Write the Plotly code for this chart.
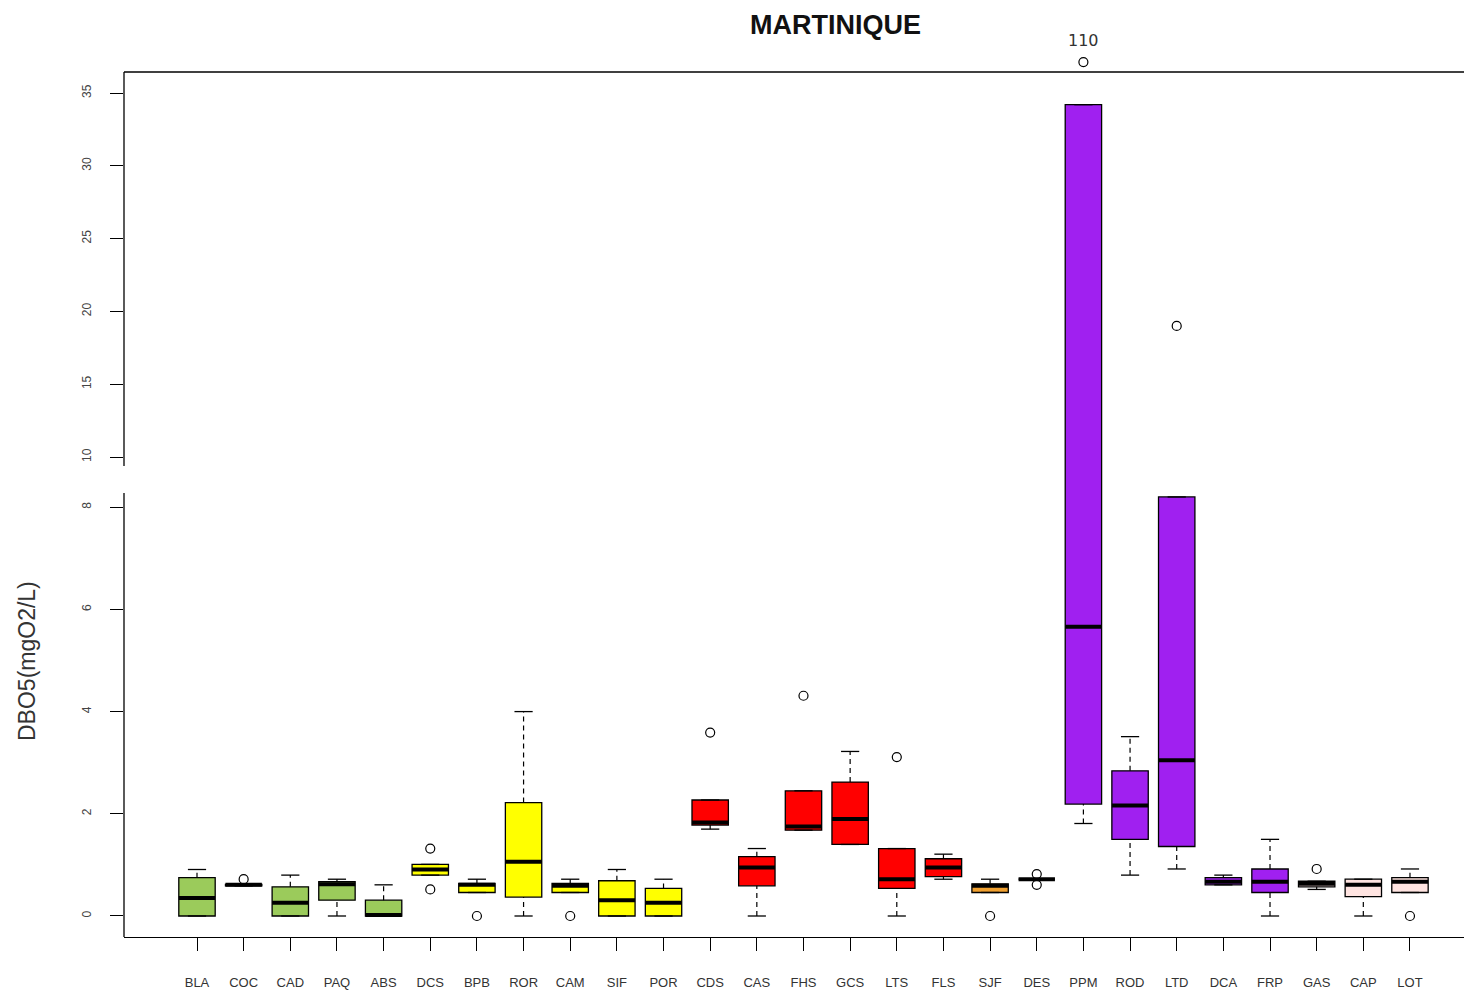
import plotly.graph_objects as go

# ---------------- data ----------------
categories = ["BLA", "COC", "CAD", "PAQ", "ABS", "DCS", "BPB", "ROR", "CAM", "SIF", "POR",
              "CDS", "CAS", "FHS", "GCS", "LTS", "FLS", "SJF", "DES", "PPM", "ROD", "LTD",
              "DCA", "FRP", "GAS", "CAP", "LOT"]
q1 = [0.00, 0.59, 0.00, 0.31, 0.00, 0.80, 0.46, 0.37, 0.46, 0.00, 0.00,
      1.78, 0.59, 1.68, 1.40, 0.54, 0.77, 0.46, 0.72, 2.19, 1.50, 1.36,
      0.61, 0.46, 0.57, 0.38, 0.46]
median = [0.35, 0.61, 0.26, 0.62, 0.02, 0.91, 0.61, 1.06, 0.59, 0.31, 0.26,
          1.83, 0.95, 1.75, 1.90, 0.72, 0.95, 0.59, 0.72, 5.66, 2.16, 3.05,
          0.67, 0.67, 0.63, 0.61, 0.67]
q3 = [0.75, 0.62, 0.57, 0.67, 0.31, 1.01, 0.64, 2.22, 0.64, 0.69, 0.54,
      2.27, 1.16, 2.45, 2.62, 1.32, 1.12, 0.63, 0.72, 34.2, 2.84, 8.20,
      0.75, 0.92, 0.68, 0.72, 0.75]
whisker_low = [0.00, 0.59, 0.00, 0.00, 0.00, 0.80, 0.46, 0.00, 0.46, 0.00, 0.00,
               1.70, 0.00, 1.68, 1.40, 0.00, 0.72, 0.46, 0.72, 1.81, 0.80, 0.92,
               0.61, 0.00, 0.52, 0.00, 0.46]
whisker_high = [0.91, 0.62, 0.80, 0.72, 0.61, 1.01, 0.72, 4.00, 0.72, 0.91, 0.72,
                2.27, 1.32, 2.45, 3.22, 1.32, 1.21, 0.72, 0.72, 34.2, 3.51, 8.20,
                0.80, 1.50, 0.68, 0.72, 0.92]
outliers = [[], [0.72], [], [], [], [1.32, 0.52], [0.0], [], [0.0], [], [],
            [3.59], [], [4.31], [], [3.11], [], [0.0], [0.82, 0.61], [110.0], [], [19.0],
            [], [], [0.92], [], [0.0]]
fill_colors = ["#9BCB5B"] * 5 + ["#FFFF00"] * 6 + ["#FF0000"] * 6 + ["#F0A030", "#FFFFFF"] + \
              ["#A020F0"] * 5 + ["#FFE4E1"] * 3
lower_ticks = [0, 2, 4, 6, 8]
upper_ticks = [10, 15, 20, 25, 30, 35]

# ---------------- style constants ----------------
BOX_W = 0.78
CAP_HALF = BOX_W / 4
MED_HALF = BOX_W / 2
LOWER_RANGE = [-0.411, 8.532]
UPPER_RANGE = [8.42, 39.33]
FRAME_TOP = 36.44        # top of the framed plotting region (upper segment units)
SPLIT = 0.50386
OUTLIER_CLAMP = 37.13    # values above the frame are drawn just above it
LINE_W = 1.3

xs = list(range(len(categories)))
fig = go.Figure()

for ya in ["y", "y2"]:
    for i, c in enumerate(categories):
        fig.add_trace(go.Box(
            x=[xs[i]], q1=[q1[i]], median=[median[i]], q3=[q3[i]],
            lowerfence=[q1[i]], upperfence=[q3[i]],
            width=BOX_W, fillcolor=fill_colors[i], boxpoints=False,
            line=dict(color="black", width=LINE_W),
            xaxis="x", yaxis=ya, showlegend=False, hoverinfo="skip"))

    wx, wy, cx, cy, mx, my = [], [], [], [], [], []
    for i in xs:
        if whisker_high[i] > q3[i]:
            wx += [i, i, None]; wy += [q3[i], whisker_high[i], None]
        if whisker_low[i] < q1[i]:
            wx += [i, i, None]; wy += [whisker_low[i], q1[i], None]
        cx += [i - CAP_HALF, i + CAP_HALF, None, i - CAP_HALF, i + CAP_HALF, None]
        cy += [whisker_high[i], whisker_high[i], None, whisker_low[i], whisker_low[i], None]
        mx += [i - MED_HALF, i + MED_HALF, None]
        my += [median[i], median[i], None]
    fig.add_trace(go.Scatter(x=wx, y=wy, mode="lines", xaxis="x", yaxis=ya,
                             line=dict(color="black", width=1.2, dash="5px,4px"),
                             showlegend=False, hoverinfo="skip"))
    fig.add_trace(go.Scatter(x=cx, y=cy, mode="lines", xaxis="x", yaxis=ya,
                             line=dict(color="black", width=LINE_W),
                             showlegend=False, hoverinfo="skip"))
    fig.add_trace(go.Scatter(x=mx, y=my, mode="lines", xaxis="x", yaxis=ya,
                             line=dict(color="black", width=4),
                             showlegend=False, hoverinfo="skip"))

# outliers
lo_x, lo_y, up_x, up_y = [], [], [], []
labels = []
for i in xs:
    for v in outliers[i]:
        if v <= LOWER_RANGE[1]:
            lo_x.append(i); lo_y.append(v)
        else:
            yv = min(v, OUTLIER_CLAMP)
            up_x.append(i); up_y.append(yv)
            if v > FRAME_TOP:
                labels.append(dict(text=f"{v:g}", x=i, y=yv, xref="x", yref="y2",
                                   yshift=22, showarrow=False, xanchor="center",
                                   yanchor="middle",
                                   font=dict(family="DejaVu Sans", size=16, color="#333333")))
marker_style = dict(symbol="circle-open", size=9, color="black", line=dict(width=1.2))
fig.add_trace(go.Scatter(x=lo_x, y=lo_y, mode="markers", xaxis="x", yaxis="y",
                         marker=marker_style, showlegend=False, hoverinfo="skip"))
fig.add_trace(go.Scatter(x=up_x, y=up_y, mode="markers", xaxis="x", yaxis="y2",
                         marker=marker_style, showlegend=False, hoverinfo="skip"))

yax_common = dict(ticks="outside", ticklen=13, tickcolor="black", tickwidth=1.2,
                  tickangle=-90, tickfont=dict(family="Liberation Sans", size=12, color="#444444"),
                  showgrid=False, zeroline=False, showline=False, ticklabelstandoff=14)

PLOT_TOP_PX, PLOT_BOT_PX = 30, 937
H = PLOT_BOT_PX - PLOT_TOP_PX


def py(px):
    return (PLOT_BOT_PX - px) / H


fig.update_layout(
    width=1464, height=991,
    margin=dict(l=124, r=0, t=PLOT_TOP_PX, b=991 - PLOT_BOT_PX),
    plot_bgcolor="white", paper_bgcolor="white",
    xaxis=dict(range=[-1.5647, 27.158], tickmode="array", tickvals=xs, ticktext=categories,
               ticks="outside", ticklen=13, tickcolor="black", tickwidth=1.2,
               showline=True, linecolor="black", linewidth=LINE_W,
               showgrid=False, zeroline=False, anchor="y",
               tickfont=dict(family="Liberation Sans", size=13, color="#333333"),
               ticklabelstandoff=20),
    yaxis=dict(domain=[0, SPLIT], range=LOWER_RANGE, tickmode="array",
               tickvals=lower_ticks, ticktext=[str(t) for t in lower_ticks], anchor="x",
               **yax_common),
    yaxis2=dict(domain=[SPLIT, 1], range=UPPER_RANGE, tickmode="array",
                tickvals=upper_ticks, ticktext=[str(t) for t in upper_ticks], anchor="x",
                **yax_common),
    shapes=[
        dict(type="line", xref="paper", yref="paper", x0=0, x1=0, y0=0, y1=py(493),
             line=dict(color="black", width=LINE_W)),
        dict(type="line", xref="paper", yref="paper", x0=0, x1=0, y0=py(466), y1=py(72),
             line=dict(color="black", width=LINE_W)),
        dict(type="line", xref="paper", yref="paper", x0=0, x1=1, y0=py(72), y1=py(72),
             line=dict(color="black", width=LINE_W)),
    ],
    annotations=[
        dict(text="<b>MARTINIQUE</b>", xref="paper", yref="paper",
             x=(835 - 124) / 1340, y=py(25), xanchor="center", yanchor="middle",
             showarrow=False, font=dict(family="Liberation Sans", size=27, color="#111111")),
        dict(text="DBO5(mgO2/L)", xref="paper", yref="paper",
             x=(27 - 124) / 1340, y=py(661), xanchor="center", yanchor="middle",
             textangle=-90, showarrow=False,
             font=dict(family="Liberation Sans", size=23, color="#333333")),
    ] + labels,
)

fig.write_html("out.html", config={"displayModeBar": False},
               post_script="document.body.style.margin='0';")
